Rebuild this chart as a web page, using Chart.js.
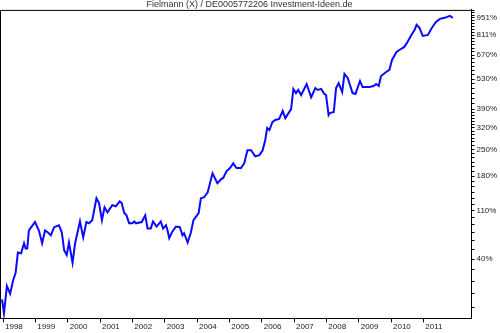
<!DOCTYPE html>
<html>
<head>
    <title>Fielmann</title>
    <script src="https://cdn.jsdelivr.net/npm/chart.js"></script>
    <style>
        body { margin: 0; background: #fff; }
    </style>
</head>
<body>
    <canvas id="perfChart" width="500" height="333"></canvas>

    <script>
        // decimal years and performance in percent
        const years = [
            1997.97, 1998.03, 1998.06, 1998.12, 1998.22, 1998.31, 1998.39, 1998.46, 1998.56, 1998.65,
            1998.70, 1998.75, 1998.80, 1998.99, 1999.11, 1999.21, 1999.30, 1999.39, 1999.48, 1999.58,
            1999.73, 1999.82, 1999.89, 1999.97, 2000.04, 2000.15, 2000.23, 2000.38, 2000.48, 2000.58,
            2000.66, 2000.76, 2000.89, 2000.97, 2001.06, 2001.14, 2001.23, 2001.38, 2001.49, 2001.61,
            2001.67, 2001.75, 2001.82, 2001.90, 2002.00, 2002.06, 2002.11, 2002.29, 2002.40, 2002.47,
            2002.57, 2002.64, 2002.75, 2002.88, 2002.95, 2003.04, 2003.09, 2003.14, 2003.22, 2003.35,
            2003.47, 2003.55, 2003.60, 2003.71, 2003.81, 2003.89, 2004.05, 2004.12, 2004.22, 2004.33,
            2004.48, 2004.63, 2004.74, 2004.81, 2004.91, 2005.02, 2005.12, 2005.22, 2005.36, 2005.46,
            2005.56, 2005.67, 2005.80, 2005.93, 2006.03, 2006.11, 2006.17, 2006.24, 2006.33, 2006.42,
            2006.54, 2006.65, 2006.73, 2006.91, 2006.98, 2007.06, 2007.13, 2007.22, 2007.39, 2007.53,
            2007.66, 2007.73, 2007.84, 2007.94, 2007.99, 2008.07, 2008.11, 2008.23, 2008.30, 2008.38,
            2008.49, 2008.56, 2008.66, 2008.73, 2008.81, 2008.90, 2009.04, 2009.12, 2009.33, 2009.46,
            2009.54, 2009.62, 2009.69, 2009.85, 2009.95, 2010.03, 2010.17, 2010.26, 2010.41, 2010.51,
            2010.63, 2010.73, 2010.79, 2010.88, 2010.98, 2011.14, 2011.26, 2011.39, 2011.51, 2011.66,
            2011.82, 2011.91
        ];
        const perf = [
            0, -11, -4, 12, 5, 17, 25, 48, 47, 60,
            53, 53, 78, 91, 78, 60, 78, 75, 71, 83,
            86, 75, 51, 45, 61, 36, 60, 92, 68, 91,
            89, 94, 133, 124, 94, 116, 107, 120, 118, 127,
            124, 106, 102, 89, 89, 92, 89, 91, 102, 81,
            81, 92, 84, 92, 81, 86, 78, 67, 75, 84,
            83, 71, 74, 61, 75, 94, 106, 133, 135, 145,
            187, 164, 173, 176, 192, 200, 212, 200, 200, 212,
            248, 248, 231, 234, 248, 279, 319, 312, 340, 348,
            352, 383, 355, 391, 481, 461, 476, 452, 505, 442,
            485, 476, 481, 457, 452, 367, 375, 379, 485, 510,
            466, 558, 537, 500, 461, 457, 521, 490, 490, 495,
            505, 495, 547, 569, 581, 640, 691, 704, 725, 760,
            812, 851, 892, 867, 804, 812, 867, 917, 943, 952,
            969, 952
        ];

        const yearTicks = [1998, 1999, 2000, 2001, 2002, 2003, 2004, 2005, 2006, 2007, 2008, 2009, 2010, 2011];
        const pctTicks = [40, 110, 180, 250, 320, 390, 530, 670, 811, 951];

        // log axis works on growth factor 1 + p/100
        const toFactor = p => 1 + p / 100;

        // minor tick marks between the labelled ones
        function buildPctTicks(min, max) {
            const out = [];
            const add = v => { if (v >= min && v <= max) out.push({ value: v }); };
            for (let p = 40 - 70 / 6; toFactor(p) >= min; p -= 70 / 6) add(toFactor(p));
            for (let i = 0; i < pctTicks.length; i++) {
                add(toFactor(pctTicks[i]));
                if (i < pctTicks.length - 1) {
                    const step = (pctTicks[i + 1] - pctTicks[i]) / 6;
                    for (let k = 1; k < 6; k++) add(toFactor(pctTicks[i] + step * k));
                }
            }
            for (let p = 951 + 140 / 6; toFactor(p) <= max; p += 140 / 6) add(toFactor(p));
            return out.sort((a, b) => a.value - b.value);
        }

        const frame = {
            id: 'frame',
            afterDraw(chart) {
                const { ctx, chartArea } = chart;
                ctx.save();
                ctx.strokeStyle = '#000';
                ctx.lineWidth = 1;
                ctx.beginPath();
                ctx.moveTo(chartArea.left + 0.5, chartArea.bottom);
                ctx.lineTo(chartArea.left + 0.5, chartArea.top + 0.5);
                ctx.lineTo(chartArea.right, chartArea.top + 0.5);
                ctx.stroke();
                ctx.restore();
            }
        };

        const ctx = document.getElementById('perfChart').getContext('2d');
        const perfChart = new Chart(ctx, {
            type: 'line',
            data: {
                datasets: [{
                    data: years.map((y, i) => ({ x: y, y: toFactor(perf[i]) })),
                    borderColor: '#0a0aff',
                    borderWidth: 2,
                    pointRadius: 0,
                    tension: 0,
                    fill: false
                }]
            },
            options: {
                responsive: false,
                animation: false,
                layout: { padding: { left: 0, right: 1, top: 0, bottom: 1 } },
                plugins: {
                    legend: { display: false },
                    tooltip: { enabled: false },
                    title: {
                        display: true,
                        text: 'Fielmann (X) / DE0005772206 Investment-Ideen.de',
                        color: '#333',
                        font: { family: 'Liberation Sans, Arial', size: 9, weight: 'normal', lineHeight: 1.1 },
                        padding: { top: 0, bottom: 0 }
                    }
                },
                scales: {
                    x: {
                        type: 'linear',
                        min: 1997.907,
                        max: 2012.49,
                        afterBuildTicks: scale => { scale.ticks = yearTicks.map(v => ({ value: v })); },
                        grid: { drawOnChartArea: false, tickLength: 4, tickColor: '#000' },
                        border: { color: '#000' },
                        ticks: {
                            autoSkip: false,
                            maxRotation: 0,
                            align: 'start',
                            labelOffset: 2,
                            padding: 0,
                            color: '#222',
                            font: { family: 'Liberation Sans, Arial', size: 8 },
                            callback: v => String(v)
                        }
                    },
                    y: {
                        type: 'logarithmic',
                        position: 'right',
                        min: 0.854,
                        max: 11.24,
                        afterBuildTicks: scale => { scale.ticks = buildPctTicks(scale.min, scale.max); },
                        grid: { drawOnChartArea: false, tickLength: 3, tickColor: '#000' },
                        border: { color: '#000' },
                        ticks: {
                            autoSkip: false,
                            padding: 2,
                            color: '#222',
                            font: { family: 'Liberation Sans, Arial', size: 8 },
                            callback: v => {
                                const p = pctTicks.find(t => Math.abs(toFactor(t) - v) < 1e-6);
                                return p === undefined ? '' : p + '%';
                            }
                        }
                    }
                }
            },
            plugins: [frame]
        });
    </script>
</body>
</html>
